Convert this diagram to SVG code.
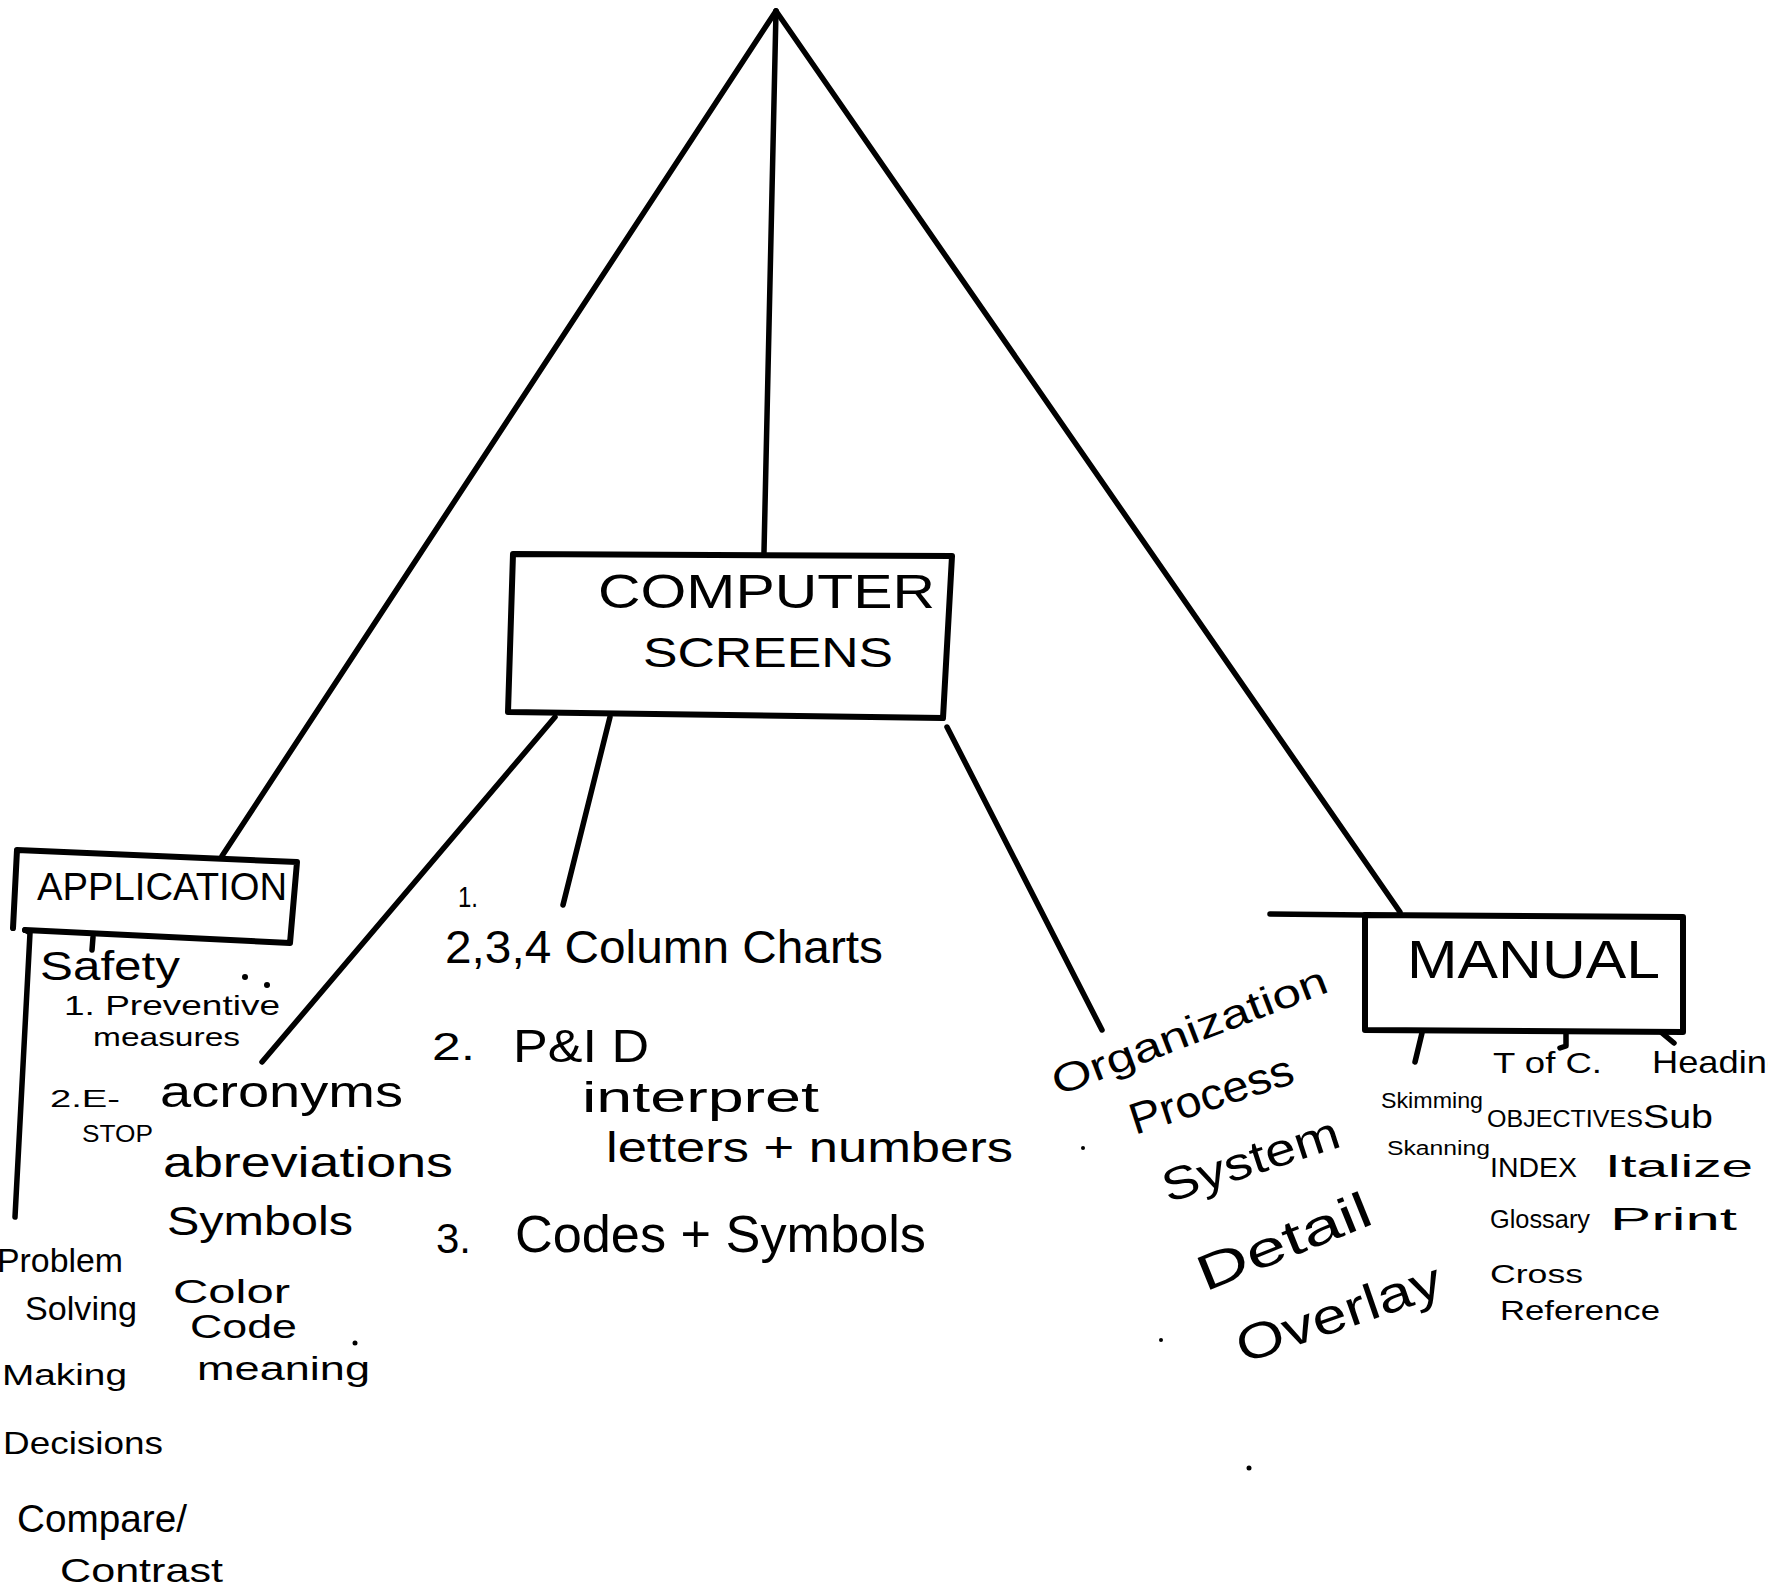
<svg xmlns="http://www.w3.org/2000/svg" width="1768" height="1590" viewBox="0 0 1768 1590">
<style>
  .ln { fill: none; stroke: #000; stroke-width: 5.5; stroke-linecap: round; stroke-linejoin: round; }
  .bx { fill: #fff; stroke: #000; stroke-width: 6; stroke-linejoin: round; }
  text { font-family: "Liberation Sans", "DejaVu Sans", sans-serif; fill: #000; }
  .dot { fill: #000; }
</style>
<rect width="1768" height="1590" fill="#fff"/>

<g id="connectors">
  <line class="ln" x1="776" y1="11" x2="764" y2="552"/>
  <line class="ln" x1="776" y1="11" x2="222" y2="856"/>
  <line class="ln" x1="776" y1="11" x2="1400" y2="912"/>
  <line class="ln" x1="555" y1="717" x2="262" y2="1062"/>
  <line class="ln" x1="610" y1="717" x2="563" y2="905"/>
  <line class="ln" x1="947" y1="727" x2="1102" y2="1030"/>
  <polyline class="ln" points="25,930 30,933 15,1217"/>
  <line class="ln" x1="93" y1="937" x2="92" y2="950"/>
  <line class="ln" x1="1270" y1="914" x2="1365" y2="915"/>
  <line class="ln" x1="1422" y1="1033" x2="1415" y2="1062"/>
  <polyline class="ln" points="1566,1033 1566,1046 1560,1048"/>
  <line class="ln" x1="1662" y1="1033" x2="1674" y2="1043"/>
</g>

<g id="computer-screens">
  <polygon class="bx" points="513,554 952,556 943,718 508,712"/>
  <text x="598" y="608" font-size="48" textLength="337" lengthAdjust="spacingAndGlyphs">COMPUTER</text>
  <text x="643" y="667" font-size="42" textLength="250" lengthAdjust="spacingAndGlyphs">SCREENS</text>
</g>

<g id="application">
  <polyline class="ln" points="13,928 17,850 297,862 290,943 25,930" style="stroke-width:6"/>
  <text x="37" y="900" font-size="38" textLength="250" lengthAdjust="spacingAndGlyphs">APPLICATION</text>
</g>

<g id="manual">
  <polygon class="bx" points="1365,915 1683,917 1683,1032 1365,1030"/>
  <text x="1407" y="978" font-size="54" textLength="253" lengthAdjust="spacingAndGlyphs">MANUAL</text>
</g>

<g id="application-items">
  <text x="40" y="980" font-size="40" textLength="140" lengthAdjust="spacingAndGlyphs">Safety</text>
  <text x="64" y="1015" font-size="28" textLength="216" lengthAdjust="spacingAndGlyphs">1. Preventive</text>
  <text x="93" y="1046" font-size="26" textLength="147" lengthAdjust="spacingAndGlyphs">measures</text>
  <text x="50" y="1107" font-size="24" textLength="70" lengthAdjust="spacingAndGlyphs">2.E-</text>
  <text x="82" y="1142" font-size="24" textLength="71" lengthAdjust="spacingAndGlyphs">STOP</text>
  <text x="-3" y="1272" font-size="34" textLength="126" lengthAdjust="spacingAndGlyphs">Problem</text>
  <text x="25" y="1320" font-size="34" textLength="112" lengthAdjust="spacingAndGlyphs">Solving</text>
  <text x="2" y="1385" font-size="30" textLength="125" lengthAdjust="spacingAndGlyphs">Making</text>
  <text x="3" y="1454" font-size="32" textLength="160" lengthAdjust="spacingAndGlyphs">Decisions</text>
  <text x="17" y="1532" font-size="38" textLength="170" lengthAdjust="spacingAndGlyphs">Compare/</text>
  <text x="60" y="1582" font-size="34" textLength="163" lengthAdjust="spacingAndGlyphs">Contrast</text>
  <circle class="dot" cx="245" cy="977" r="3"/>
  <circle class="dot" cx="267" cy="985" r="3"/>
</g>

<g id="screen-items-left">
  <text x="160" y="1107" font-size="44" textLength="243" lengthAdjust="spacingAndGlyphs">acronyms</text>
  <text x="163" y="1177" font-size="42" textLength="290" lengthAdjust="spacingAndGlyphs">abreviations</text>
  <text x="167" y="1235" font-size="40" textLength="186" lengthAdjust="spacingAndGlyphs">Symbols</text>
  <text x="173" y="1303" font-size="34" textLength="117" lengthAdjust="spacingAndGlyphs">Color</text>
  <text x="190" y="1338" font-size="34" textLength="107" lengthAdjust="spacingAndGlyphs">Code</text>
  <text x="197" y="1380" font-size="34" textLength="173" lengthAdjust="spacingAndGlyphs">meaning</text>
  <circle class="dot" cx="355" cy="1343" r="2.5"/>
</g>

<g id="screen-items-center">
  <text x="458" y="907" font-size="30" textLength="20" lengthAdjust="spacingAndGlyphs">1.</text>
  <text x="445" y="963" font-size="46" textLength="438" lengthAdjust="spacingAndGlyphs">2,3,4 Column Charts</text>
  <text x="432" y="1060" font-size="38" textLength="43" lengthAdjust="spacingAndGlyphs">2.</text>
  <text x="513" y="1062" font-size="46" textLength="136" lengthAdjust="spacingAndGlyphs">P&amp;I D</text>
  <text x="582" y="1112" font-size="42" textLength="237" lengthAdjust="spacingAndGlyphs">interpret</text>
  <text x="606" y="1162" font-size="42" textLength="407" lengthAdjust="spacingAndGlyphs">letters + numbers</text>
  <text x="436" y="1253" font-size="42" textLength="35" lengthAdjust="spacingAndGlyphs">3.</text>
  <text x="515" y="1252" font-size="52" textLength="411" lengthAdjust="spacingAndGlyphs">Codes + Symbols</text>
</g>

<g id="screen-items-right">
  <text transform="translate(1058,1096) rotate(-21)" font-size="40" textLength="292" lengthAdjust="spacingAndGlyphs">Organization</text>
  <text transform="translate(1135,1135) rotate(-18)" font-size="44" textLength="170" lengthAdjust="spacingAndGlyphs">Process</text>
  <text transform="translate(1168,1203) rotate(-18)" font-size="46" textLength="184" lengthAdjust="spacingAndGlyphs">System</text>
  <text transform="translate(1205,1292) rotate(-22)" font-size="50" textLength="184" lengthAdjust="spacingAndGlyphs">Detail</text>
  <text transform="translate(1243,1364) rotate(-19)" font-size="50" textLength="214" lengthAdjust="spacingAndGlyphs">Overlay</text>
  <circle class="dot" cx="1083" cy="1148" r="2"/>
  <circle class="dot" cx="1161" cy="1340" r="2"/>
  <circle class="dot" cx="1249" cy="1468" r="2.5"/>
</g>

<g id="manual-items">
  <text x="1493" y="1073" font-size="30" textLength="109" lengthAdjust="spacingAndGlyphs">T of C.</text>
  <text x="1652" y="1073" font-size="32" textLength="135" lengthAdjust="spacingAndGlyphs">Heading</text>
  <text x="1381" y="1108" font-size="22" textLength="102" lengthAdjust="spacingAndGlyphs">Skimming</text>
  <text x="1487" y="1127" font-size="24" textLength="156" lengthAdjust="spacingAndGlyphs">OBJECTIVES</text>
  <text x="1643" y="1128" font-size="34" textLength="70" lengthAdjust="spacingAndGlyphs">Sub</text>
  <text x="1387" y="1155" font-size="20" textLength="103" lengthAdjust="spacingAndGlyphs">Skanning</text>
  <text x="1490" y="1177" font-size="28" textLength="87" lengthAdjust="spacingAndGlyphs">INDEX</text>
  <text x="1605" y="1177" font-size="32" textLength="148" lengthAdjust="spacingAndGlyphs">Italize</text>
  <text x="1490" y="1228" font-size="26" textLength="100" lengthAdjust="spacingAndGlyphs">Glossary</text>
  <text x="1610" y="1230" font-size="32" textLength="127" lengthAdjust="spacingAndGlyphs">Print</text>
  <text x="1490" y="1283" font-size="26" textLength="93" lengthAdjust="spacingAndGlyphs">Cross</text>
  <text x="1500" y="1320" font-size="28" textLength="160" lengthAdjust="spacingAndGlyphs">Reference</text>
</g>
</svg>
